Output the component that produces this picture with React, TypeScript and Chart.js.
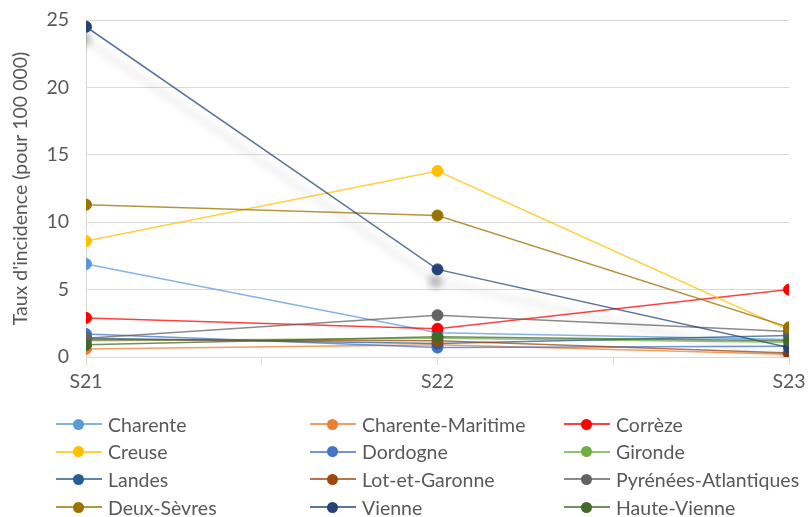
import React, { useEffect, useRef } from 'react';
import { Chart, registerables } from 'chart.js';

Chart.register(...registerables);

const weeks = ['S21', 'S22', 'S23'];
const yTicks = [0, 5, 10, 15, 20, 25];

const charente = [6.9, 1.8, 1.3];
const charenteMaritime = [0.6, 0.9, 0.2];
const correze = [2.9, 2.1, 5.0];
const creuse = [8.6, 13.8, 2.0];
const dordogne = [1.7, 0.7, 0.8];
const gironde = [1.2, 1.4, 1.1];
const landes = [1.4, 1.0, 1.6];
const lotEtGaronne = [1.3, 1.2, 0.3];
const pyreneesAtlantiques = [1.4, 3.1, 1.9];
const deuxSevres = [11.3, 10.5, 2.2];
const vienne = [24.5, 6.5, 0.7];
const hauteVienne = [0.9, 1.5, 1.2];

const seriesNames = [
  'Charente', 'Charente-Maritime', 'Corrèze',
  'Creuse', 'Dordogne', 'Gironde',
  'Landes', 'Lot-et-Garonne', 'Pyrénées-Atlantiques',
  'Deux-Sèvres', 'Vienne', 'Haute-Vienne',
];
const seriesValues = [
  charente, charenteMaritime, correze,
  creuse, dordogne, gironde,
  landes, lotEtGaronne, pyreneesAtlantiques,
  deuxSevres, vienne, hauteVienne,
];
const seriesColors = [
  '#5B9BD5', '#ED7D31', '#FF0000',
  '#FFC000', '#4472C4', '#70AD47',
  '#255E91', '#9E480E', '#636363',
  '#997300', '#264478', '#43682B',
];

const FONT = 'Lato, "Open Sans", sans-serif';
const TEXT = '#595959';
const GRID = '#d9d9d9';
const SHADOW_INDEX = 10;

function withAlpha(hex: string, a: number) {
  const r = parseInt(hex.slice(1, 3), 16);
  const g = parseInt(hex.slice(3, 5), 16);
  const b = parseInt(hex.slice(5, 7), 16);
  return `rgba(${r},${g},${b},${a})`;
}

const shadowPlugin = {
  id: 'seriesShadow',
  beforeDatasetDraw(chart: any, args: any) {
    if (args.index === SHADOW_INDEX) {
      const ctx = chart.ctx;
      ctx.save();
      ctx.shadowColor = 'rgba(0,0,0,0.35)';
      ctx.shadowBlur = 8;
      ctx.shadowOffsetX = -2;
      ctx.shadowOffsetY = 12;
    }
  },
  afterDatasetDraw(chart: any, args: any) {
    if (args.index === SHADOW_INDEX) chart.ctx.restore();
  },
};

export default function App() {
  const ref = useRef<HTMLCanvasElement | null>(null);

  useEffect(() => {
    document.body.style.margin = '0';
    const canvas = ref.current;
    if (!canvas) return;
    const n = seriesNames.length;
    const chart = new Chart(canvas, {
      type: 'line',
      data: {
        datasets: seriesNames.map((name, i) => ({
          label: name,
          data: seriesValues[i].map((v, k) => ({ x: k, y: v })),
          borderColor: withAlpha(seriesColors[i], 0.75),
          backgroundColor: seriesColors[i],
          pointBackgroundColor: seriesColors[i],
          pointBorderColor: seriesColors[i],
          pointRadius: 5.5,
          pointBorderWidth: 1,
          borderWidth: 1.5,
          tension: 0,
          fill: false,
          order: n - i,
        })),
      },
      options: {
        animation: false,
        responsive: false,
        maintainAspectRatio: false,
        layout: { padding: { top: 20, right: 19, bottom: 0, left: 0 } },
        plugins: {
          legend: { display: false },
          tooltip: { enabled: false },
        },
        scales: {
          x: {
            type: 'linear',
            min: 0,
            max: weeks.length - 1,
            afterFit: (s: any) => {
              s.height = 160;
              s.paddingLeft = 0;
              s.paddingRight = 0;
            },
            afterBuildTicks: (s: any) => {
              const t = [];
              for (let v = 0; v <= weeks.length - 1 + 1e-9; v += 0.5) t.push({ value: v });
              s.ticks = t;
            },
            ticks: {
              autoSkip: false,
              maxRotation: 0,
              padding: 5,
              color: TEXT,
              font: { family: FONT, size: 19.5 },
              callback: (v: any) => (Number.isInteger(v) ? weeks[v] : ''),
            },
            grid: {
              display: true,
              drawOnChartArea: false,
              drawTicks: true,
              tickLength: 8,
              color: GRID,
              lineWidth: 1,
            },
            border: { display: true, color: GRID },
          },
          y: {
            min: 0,
            max: 25,
            afterFit: (s: any) => {
              s.width = 86;
              s.paddingTop = 0;
              s.paddingBottom = 0;
            },
            afterBuildTicks: (s: any) => { s.ticks = yTicks.map((v) => ({ value: v })); },
            ticks: {
              padding: 17,
              color: TEXT,
              font: { family: FONT, size: 19.5 },
            },
            grid: { color: GRID, drawTicks: false, lineWidth: 1 },
            border: { display: true, color: GRID },
            title: {
              display: true,
              text: "Taux d'incidence (pour 100 000)",
              color: TEXT,
              font: { family: FONT, size: 19.5 },
              padding: { top: 9, bottom: 0 },
            },
          },
        },
      },
      plugins: [shadowPlugin],
    } as any);
    return () => chart.destroy();
  }, []);

  const rowTop = 411;
  const rowStep = 27.7;
  const colLeft = [56, 310, 564];

  return (
    <div style={{ position: 'relative', width: 808, height: 517, overflow: 'hidden' }}>
      <canvas ref={ref} width={808} height={517} style={{ display: 'block', width: 808, height: 517 }} />
      {seriesNames.map((name, i) => {
        const row = Math.floor(i / 3);
        const col = i % 3;
        return (
          <div
            key={name}
            style={{
              position: 'absolute',
              left: colLeft[col],
              top: rowTop + row * rowStep,
              height: 26,
              display: 'flex',
              alignItems: 'center',
              fontFamily: FONT,
              fontSize: 19.5,
              color: TEXT,
              whiteSpace: 'nowrap',
            }}
          >
            <span style={{ position: 'relative', display: 'inline-block', width: 46, height: 26, marginRight: 6 }}>
              <span style={{ position: 'absolute', left: 0, right: 0, top: 12, height: 2, background: withAlpha(seriesColors[i], 0.75) }} />
              <span style={{ position: 'absolute', left: 17, top: 7.5, width: 11, height: 11, borderRadius: '50%', background: seriesColors[i] }} />
            </span>
            <span>{name}</span>
          </div>
        );
      })}
    </div>
  );
}
